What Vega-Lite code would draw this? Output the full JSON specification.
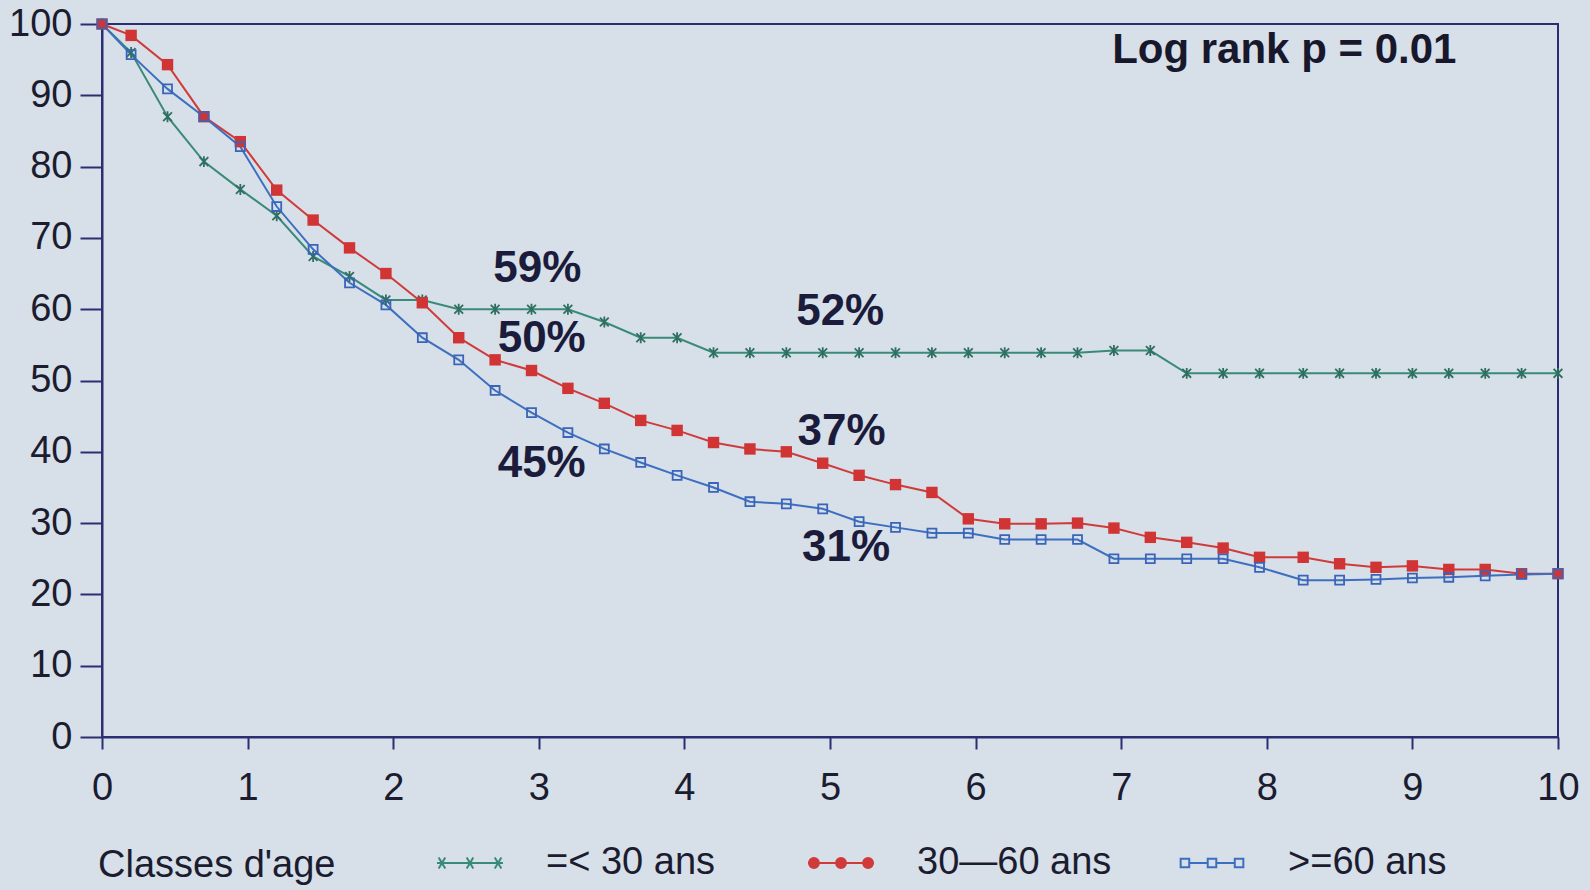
{
  "$schema": "https://vega.github.io/schema/vega-lite/v6.json",
  "width": 1456,
  "height": 713,
  "autosize": {"type": "none"},
  "padding": {"left": 102, "top": 24, "right": 32, "bottom": 153},
  "background": "#d7dfe8",
  "config": {
    "view": {"stroke": "#2a2f72", "strokeWidth": 2},
    "font": "Liberation Sans",
    "axis": {
      "grid": false,
      "domainColor": "#2a2f72",
      "domainWidth": 2,
      "tickColor": "#2a2f72",
      "tickWidth": 2,
      "labelFont": "Liberation Sans",
      "labelFontSize": 38,
      "labelColor": "#1c1c30",
      "labelFlush": false,
      "labelOverlap": false,
      "title": null
    }
  },
  "datasets": {
    "curves": [
      {"group": "=< 30 ans", "t": 0, "s": 100},
      {"group": "=< 30 ans", "t": 0.2, "s": 96},
      {"group": "=< 30 ans", "t": 0.45, "s": 87},
      {"group": "=< 30 ans", "t": 0.7, "s": 80.7},
      {"group": "=< 30 ans", "t": 0.95, "s": 76.8},
      {"group": "=< 30 ans", "t": 1.2, "s": 73.1},
      {"group": "=< 30 ans", "t": 1.45, "s": 67.4},
      {"group": "=< 30 ans", "t": 1.7, "s": 64.6},
      {"group": "=< 30 ans", "t": 1.95, "s": 61.3},
      {"group": "=< 30 ans", "t": 2.2, "s": 61.3},
      {"group": "=< 30 ans", "t": 2.45, "s": 60},
      {"group": "=< 30 ans", "t": 2.7, "s": 60},
      {"group": "=< 30 ans", "t": 2.95, "s": 60},
      {"group": "=< 30 ans", "t": 3.2, "s": 60},
      {"group": "=< 30 ans", "t": 3.45, "s": 58.2},
      {"group": "=< 30 ans", "t": 3.7, "s": 56},
      {"group": "=< 30 ans", "t": 3.95, "s": 56},
      {"group": "=< 30 ans", "t": 4.2, "s": 53.9},
      {"group": "=< 30 ans", "t": 4.45, "s": 53.9},
      {"group": "=< 30 ans", "t": 4.7, "s": 53.9},
      {"group": "=< 30 ans", "t": 4.95, "s": 53.9},
      {"group": "=< 30 ans", "t": 5.2, "s": 53.9},
      {"group": "=< 30 ans", "t": 5.45, "s": 53.9},
      {"group": "=< 30 ans", "t": 5.7, "s": 53.9},
      {"group": "=< 30 ans", "t": 5.95, "s": 53.9},
      {"group": "=< 30 ans", "t": 6.2, "s": 53.9},
      {"group": "=< 30 ans", "t": 6.45, "s": 53.9},
      {"group": "=< 30 ans", "t": 6.7, "s": 53.9},
      {"group": "=< 30 ans", "t": 6.95, "s": 54.2},
      {"group": "=< 30 ans", "t": 7.2, "s": 54.2},
      {"group": "=< 30 ans", "t": 7.45, "s": 51},
      {"group": "=< 30 ans", "t": 7.7, "s": 51},
      {"group": "=< 30 ans", "t": 7.95, "s": 51},
      {"group": "=< 30 ans", "t": 8.25, "s": 51},
      {"group": "=< 30 ans", "t": 8.5, "s": 51},
      {"group": "=< 30 ans", "t": 8.75, "s": 51},
      {"group": "=< 30 ans", "t": 9, "s": 51},
      {"group": "=< 30 ans", "t": 9.25, "s": 51},
      {"group": "=< 30 ans", "t": 9.5, "s": 51},
      {"group": "=< 30 ans", "t": 9.75, "s": 51},
      {"group": "=< 30 ans", "t": 10, "s": 51},

      {"group": "30—60 ans", "t": 0, "s": 100},
      {"group": "30—60 ans", "t": 0.2, "s": 98.4},
      {"group": "30—60 ans", "t": 0.45, "s": 94.3},
      {"group": "30—60 ans", "t": 0.7, "s": 87},
      {"group": "30—60 ans", "t": 0.95, "s": 83.5},
      {"group": "30—60 ans", "t": 1.2, "s": 76.7},
      {"group": "30—60 ans", "t": 1.45, "s": 72.5},
      {"group": "30—60 ans", "t": 1.7, "s": 68.6},
      {"group": "30—60 ans", "t": 1.95, "s": 65},
      {"group": "30—60 ans", "t": 2.2, "s": 60.9},
      {"group": "30—60 ans", "t": 2.45, "s": 56},
      {"group": "30—60 ans", "t": 2.7, "s": 52.9},
      {"group": "30—60 ans", "t": 2.95, "s": 51.4},
      {"group": "30—60 ans", "t": 3.2, "s": 48.9},
      {"group": "30—60 ans", "t": 3.45, "s": 46.8},
      {"group": "30—60 ans", "t": 3.7, "s": 44.4},
      {"group": "30—60 ans", "t": 3.95, "s": 43},
      {"group": "30—60 ans", "t": 4.2, "s": 41.3},
      {"group": "30—60 ans", "t": 4.45, "s": 40.4},
      {"group": "30—60 ans", "t": 4.7, "s": 40},
      {"group": "30—60 ans", "t": 4.95, "s": 38.4},
      {"group": "30—60 ans", "t": 5.2, "s": 36.7},
      {"group": "30—60 ans", "t": 5.45, "s": 35.4},
      {"group": "30—60 ans", "t": 5.7, "s": 34.3},
      {"group": "30—60 ans", "t": 5.95, "s": 30.6},
      {"group": "30—60 ans", "t": 6.2, "s": 29.9},
      {"group": "30—60 ans", "t": 6.45, "s": 29.9},
      {"group": "30—60 ans", "t": 6.7, "s": 30},
      {"group": "30—60 ans", "t": 6.95, "s": 29.3},
      {"group": "30—60 ans", "t": 7.2, "s": 28},
      {"group": "30—60 ans", "t": 7.45, "s": 27.3},
      {"group": "30—60 ans", "t": 7.7, "s": 26.5},
      {"group": "30—60 ans", "t": 7.95, "s": 25.2},
      {"group": "30—60 ans", "t": 8.25, "s": 25.2},
      {"group": "30—60 ans", "t": 8.5, "s": 24.3},
      {"group": "30—60 ans", "t": 8.75, "s": 23.8},
      {"group": "30—60 ans", "t": 9, "s": 24},
      {"group": "30—60 ans", "t": 9.25, "s": 23.5},
      {"group": "30—60 ans", "t": 9.5, "s": 23.5},
      {"group": "30—60 ans", "t": 9.75, "s": 22.9},
      {"group": "30—60 ans", "t": 10, "s": 22.9},

      {"group": ">=60 ans", "t": 0, "s": 100},
      {"group": ">=60 ans", "t": 0.2, "s": 95.7},
      {"group": ">=60 ans", "t": 0.45, "s": 90.9},
      {"group": ">=60 ans", "t": 0.7, "s": 87},
      {"group": ">=60 ans", "t": 0.95, "s": 82.8},
      {"group": ">=60 ans", "t": 1.2, "s": 74.4},
      {"group": ">=60 ans", "t": 1.45, "s": 68.4},
      {"group": ">=60 ans", "t": 1.7, "s": 63.7},
      {"group": ">=60 ans", "t": 1.95, "s": 60.6},
      {"group": ">=60 ans", "t": 2.2, "s": 56},
      {"group": ">=60 ans", "t": 2.45, "s": 52.9},
      {"group": ">=60 ans", "t": 2.7, "s": 48.6},
      {"group": ">=60 ans", "t": 2.95, "s": 45.5},
      {"group": ">=60 ans", "t": 3.2, "s": 42.7},
      {"group": ">=60 ans", "t": 3.45, "s": 40.4},
      {"group": ">=60 ans", "t": 3.7, "s": 38.5},
      {"group": ">=60 ans", "t": 3.95, "s": 36.7},
      {"group": ">=60 ans", "t": 4.2, "s": 35},
      {"group": ">=60 ans", "t": 4.45, "s": 33},
      {"group": ">=60 ans", "t": 4.7, "s": 32.7},
      {"group": ">=60 ans", "t": 4.95, "s": 32},
      {"group": ">=60 ans", "t": 5.2, "s": 30.2},
      {"group": ">=60 ans", "t": 5.45, "s": 29.4},
      {"group": ">=60 ans", "t": 5.7, "s": 28.6},
      {"group": ">=60 ans", "t": 5.95, "s": 28.6},
      {"group": ">=60 ans", "t": 6.2, "s": 27.7},
      {"group": ">=60 ans", "t": 6.45, "s": 27.7},
      {"group": ">=60 ans", "t": 6.7, "s": 27.7},
      {"group": ">=60 ans", "t": 6.95, "s": 25},
      {"group": ">=60 ans", "t": 7.2, "s": 25},
      {"group": ">=60 ans", "t": 7.45, "s": 25},
      {"group": ">=60 ans", "t": 7.7, "s": 25},
      {"group": ">=60 ans", "t": 7.95, "s": 23.8},
      {"group": ">=60 ans", "t": 8.25, "s": 22},
      {"group": ">=60 ans", "t": 8.5, "s": 22},
      {"group": ">=60 ans", "t": 8.75, "s": 22.1},
      {"group": ">=60 ans", "t": 9, "s": 22.3},
      {"group": ">=60 ans", "t": 9.25, "s": 22.4},
      {"group": ">=60 ans", "t": 9.5, "s": 22.6},
      {"group": ">=60 ans", "t": 9.75, "s": 22.8},
      {"group": ">=60 ans", "t": 10, "s": 22.9}
    ],
    "labels": [
      {"t": 2.99, "s": 65.7, "text": "59%"},
      {"t": 3.02, "s": 55.8, "text": "50%"},
      {"t": 3.02, "s": 38.3, "text": "45%"},
      {"t": 5.07, "s": 59.6, "text": "52%"},
      {"t": 5.08, "s": 42.8, "text": "37%"},
      {"t": 5.11, "s": 26.5, "text": "31%"}
    ],
    "note": [
      {"t": 8.12, "s": 96.3, "text": "Log rank p = 0.01"}
    ]
  },
  "layer": [
    {
      "data": {"name": "curves"},
      "mark": {"type": "line", "strokeWidth": 2},
      "encoding": {
        "x": {"field": "t", "type": "quantitative", "scale": {"domain": [0, 10], "nice": false},
              "axis": {"values": [0,1,2,3,4,5,6,7,8,9,10], "format": "d", "tickSize": 12, "labelPadding": 20}},
        "y": {"field": "s", "type": "quantitative", "scale": {"domain": [0, 100], "nice": false},
              "axis": {"values": [0,10,20,30,40,50,60,70,80,90,100], "format": "d", "tickSize": 22, "labelPadding": 8}},
        "color": {
          "field": "group", "type": "nominal",
          "scale": {"domain": ["=< 30 ans", "30—60 ans", ">=60 ans"], "range": ["#3a8a78", "#d03a3a", "#3d6fc0"]},
          "legend": {
            "orient": "none",
            "legendX": -4,
            "legendY": 805,
            "direction": "horizontal",
            "title": "Classes d'age",
            "titleOrient": "left",
            "titleBaseline": "line-top",
            "titleLineHeight": 20,
            "titleFont": "Liberation Sans",
            "titleFontSize": 38,
            "titleFontWeight": "normal",
            "titleColor": "#1c1c30",
            "titleLimit": 500,
            "titlePadding": 100,
            "labelFont": "Liberation Sans",
            "labelFontSize": 38,
            "labelColor": "#1c1c30",
            "labelOffset": 42,
            "labelLimit": 400,
            "columnPadding": 63,
            "gridAlign": "all",
            "symbolSize": 4356,
            "symbolStrokeWidth": 2,
            "encode": {
              "symbols": {
                "update": {
                  "shape": {"signal": "datum.value == '=< 30 ans' ? 'M-1,0H1M-0.95,-0.17L-0.75,0.17M-0.95,0.17L-0.75,-0.17M-0.1,-0.17L0.1,0.17M-0.1,0.17L0.1,-0.17M0.75,-0.17L0.95,0.17M0.75,0.17L0.95,-0.17' : (datum.value == '30—60 ans' ? 'M-1,0H1M-0.97,0A0.15,0.15 0 1,0 -0.67,0A0.15,0.15 0 1,0 -0.97,0ZM-0.15,0A0.15,0.15 0 1,0 0.15,0A0.15,0.15 0 1,0 -0.15,0ZM0.67,0A0.15,0.15 0 1,0 0.97,0A0.15,0.15 0 1,0 0.67,0Z' : 'M-0.69,0H-0.13M0.13,0H0.69M-0.95,-0.13H-0.69V0.13H-0.95ZM-0.13,-0.13H0.13V0.13H-0.13ZM0.69,-0.13H0.95V0.13H0.69Z')"},
                  "fill": {"signal": "datum.value == '30—60 ans' ? '#d03a3a' : 'transparent'"},
                  "stroke": {"signal": "datum.value == '=< 30 ans' ? '#3a8a78' : (datum.value == '30—60 ans' ? '#d03a3a' : '#3d6fc0')"},
                  "strokeWidth": {"value": 2}
                }
              }
            }
          }
        }
      }
    },
    {
      "data": {"name": "curves"},
      "transform": [{"filter": "datum.group == '=< 30 ans'"}],
      "mark": {"type": "point", "shape": "M-0.8,-0.8L0.8,0.8M-0.8,0.8L0.8,-0.8M0,-1V1", "size": 120, "strokeWidth": 1.8, "filled": false, "color": "#2f6f60", "opacity": 1},
      "encoding": {
        "x": {"field": "t", "type": "quantitative"},
        "y": {"field": "s", "type": "quantitative"}
      }
    },
    {
      "data": {"name": "curves"},
      "transform": [{"filter": "datum.group == '30—60 ans'"}],
      "mark": {"type": "point", "shape": "square", "size": 130, "filled": true, "color": "#d03434", "opacity": 1},
      "encoding": {
        "x": {"field": "t", "type": "quantitative"},
        "y": {"field": "s", "type": "quantitative"}
      }
    },
    {
      "data": {"name": "curves"},
      "transform": [{"filter": "datum.group == '>=60 ans'"}],
      "mark": {"type": "point", "shape": "square", "size": 80, "strokeWidth": 1.8, "filled": false, "color": "#3a64b8", "opacity": 1},
      "encoding": {
        "x": {"field": "t", "type": "quantitative"},
        "y": {"field": "s", "type": "quantitative"}
      }
    },
    {
      "data": {"name": "labels"},
      "mark": {"type": "text", "font": "Liberation Sans", "fontSize": 44, "fontWeight": "bold", "color": "#1b1b3b", "align": "center", "baseline": "middle"},
      "encoding": {
        "x": {"field": "t", "type": "quantitative"},
        "y": {"field": "s", "type": "quantitative"},
        "text": {"field": "text"}
      }
    },
    {
      "data": {"name": "note"},
      "mark": {"type": "text", "font": "Liberation Sans", "fontSize": 42, "fontWeight": "bold", "color": "#18182c", "align": "center", "baseline": "middle"},
      "encoding": {
        "x": {"field": "t", "type": "quantitative"},
        "y": {"field": "s", "type": "quantitative"},
        "text": {"field": "text"}
      }
    }
  ]
}
